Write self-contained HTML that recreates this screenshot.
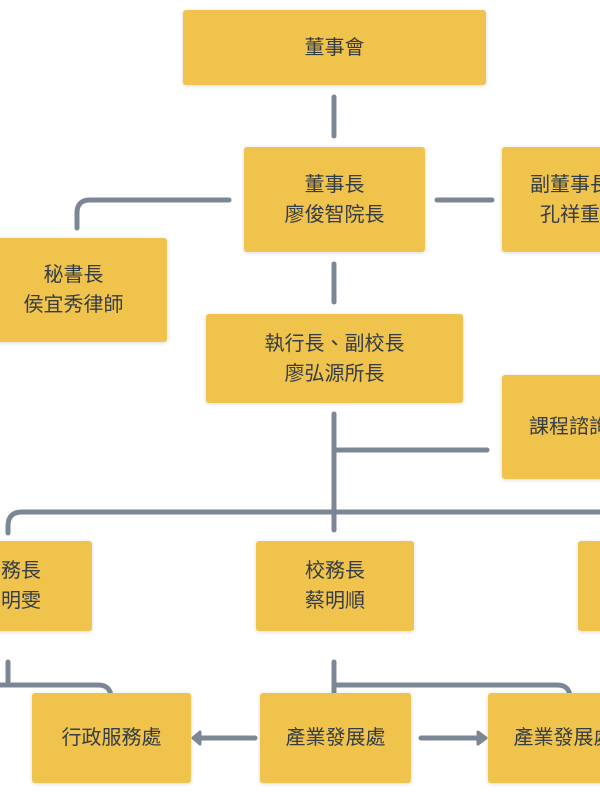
<!DOCTYPE html>
<html><head><meta charset="utf-8"><style>
html,body{margin:0;padding:0;width:600px;height:800px;overflow:hidden;background:#fff}
#w{position:relative;width:600px;height:800px;overflow:hidden}
.b{position:absolute;background:#f0c34c;border-radius:3px;box-shadow:0 1px 4px rgba(0,0,0,.15);display:flex;align-items:center;justify-content:center;text-align:center;font-family:"Liberation Sans","Noto Sans CJK TC",sans-serif;font-size:20px;line-height:30px;color:#343d46;white-space:nowrap;overflow:hidden}
svg{position:absolute;left:0;top:0}
</style></head><body><div id="w">
<svg width="600" height="800" fill="none" stroke="#7b8794" stroke-width="5" stroke-linecap="round">
<path d="M334 97V136"/>
<path d="M229 200H90Q77 200 77 213V228"/>
<path d="M437 200H492"/>
<path d="M334 264V302"/>
<path d="M334 414V530"/>
<path d="M334 450H487"/>
<path d="M610 512H22Q8 512 8 526V533"/>
<path d="M8 662V685"/>
<path d="M-10 685H98Q111 685 111 698V709"/>
<path d="M334 662V710"/>
<path d="M334 685H557Q570 685 570 698V709"/>
<path d="M255 738H200"/>
<path d="M421 738H478"/>
<path d="M200 732L193 738L200 744Z" fill="#7b8794" stroke-width="3" stroke-linejoin="round"/>
<path d="M478 732L486 738L478 744Z" fill="#7b8794" stroke-width="3" stroke-linejoin="round"/>
</svg>
<div class="b" style="left:183px;top:10px;width:303px;height:75px">董事會</div>
<div class="b" style="left:244px;top:147px;width:181px;height:105px">董事長<br>廖俊智院長</div>
<div class="b" style="left:502px;top:147px;width:136px;height:105px">副董事長<br>孔祥重</div>
<div class="b" style="left:-20px;top:238px;width:187px;height:104px">秘書長<br>侯宜秀律師</div>
<div class="b" style="left:206px;top:314px;width:257px;height:89px">執行長、副校長<br>廖弘源所長</div>
<div class="b" style="left:502px;top:375px;width:160px;height:104px;justify-content:flex-start;padding-left:27px;box-sizing:border-box">課程諮詢委員會</div>
<div class="b" style="left:-70px;top:541px;width:162px;height:90px">學務長<br>蔡明雯</div>
<div class="b" style="left:256px;top:541px;width:158px;height:90px">校務長<br>蔡明順</div>
<div class="b" style="left:578px;top:541px;width:100px;height:90px"></div>
<div class="b" style="left:32px;top:693px;width:159px;height:90px">行政服務處</div>
<div class="b" style="left:260px;top:693px;width:151px;height:90px">產業發展處</div>
<div class="b" style="left:488px;top:693px;width:151px;height:90px">產業發展處</div>
</div></body></html>
